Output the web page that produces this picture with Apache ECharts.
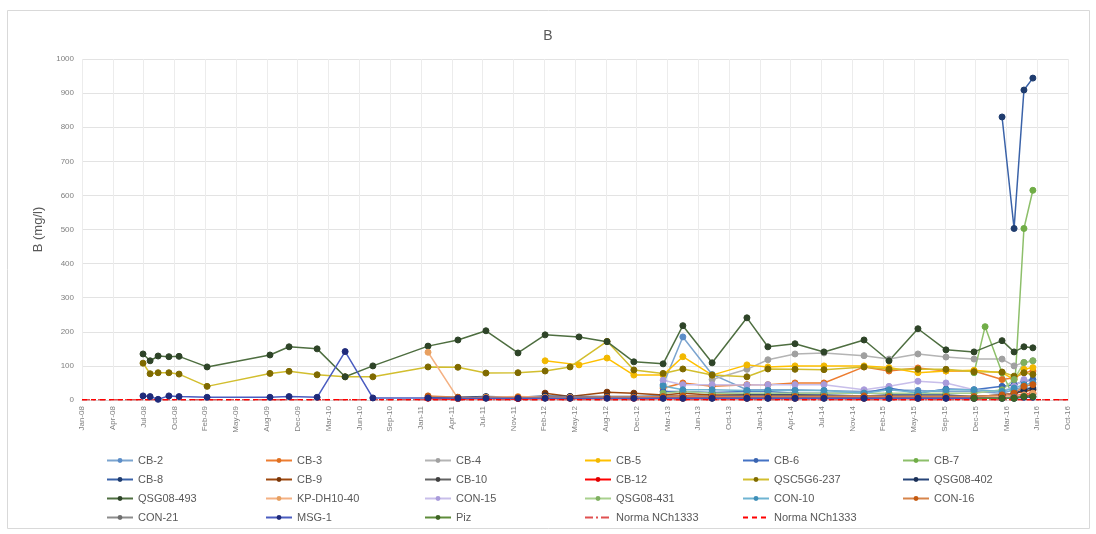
<!DOCTYPE html>
<html>
<head>
<meta charset="utf-8">
<script src="https://cdn.jsdelivr.net/npm/echarts@6/dist/echarts.min.js"></script>
<style>html,body{margin:0;padding:0;background:#fff}#c{width:1096px;height:534px}</style>
</head>
<body>
<div id="c"></div>
<script>
const _ = null;
const monthNames = ['Jan','Feb','Mar','Apr','May','Jun','Jul','Aug','Sep','Oct','Nov','Dec'];
const yTicks = [0,100,200,300,400,500,600,700,800,900,1000];
const sampleDates = ['2008-07-17','2008-08-09','2008-09-04','2008-10-09','2008-11-11','2009-02-10','2009-09-02','2009-11-03','2010-02-02','2010-05-04','2010-08-02','2011-01-28','2011-05-05','2011-08-04','2011-11-16','2012-02-12','2012-05-03','2012-06-01','2012-08-31','2012-11-26','2013-03-01','2013-05-04','2013-08-07','2013-11-28','2014-02-04','2014-05-03','2014-08-05','2014-12-13','2015-03-04','2015-06-06','2015-09-05','2015-12-05','2016-01-10','2016-03-05','2016-04-13','2016-05-15','2016-06-13'];
const normDates = ['2008-01-01','2016-10-05'];

const cb2  = [_,_,_,_,_,_,_,_,_,_, _,_,_,_,_,_,_,_,_,_, 45,185,75,30,30,30,28,25,30,28, 25,25,_,20,30,40,30];
const cb3  = [_,_,_,_,_,_,_,_,_,_, _,_,_,_,_,_,_,_,_,_, 35,50,40,45,45,50,50,97,85,94, 85,85,_,60,65,80,85];
const cb4  = [_,_,_,_,_,_,_,_,_,_, _,_,_,_,_,_,_,_,_,_, _,_,60,90,118,135,138,130,120,135, 126,120,_,120,100,110,115];
const cb5  = [_,_,_,_,_,_,_,_,_,_, _,_,_,_,_,115,_,103,123,73, 73,127,73,103,97,100,100,100,95,80, 85,87,_,80,60,90,95];
const cb6  = [_,_,_,_,_,_,_,_,_,_, _,_,_,_,_,_,_,_,_,_, 25,25,22,25,25,20,20,20,35,20, 32,30,_,40,45,55,60];
const cb7  = [_,_,_,_,_,_,_,_,_,_, _,_,_,_,_,_,_,_,_,_, _,_,_,_,_,_,_,_,_,_, _,80,215,80,5,503,615];
const cb8  = [_,_,_,_,_,_,_,_,_,_, _,_,_,_,_,_,_,_,_,_, _,_,_,_,_,_,_,_,_,_, _,_,_,830,503,909,944];
const cb9  = [_,_,_,_,_,_,_,_,_,_, _,_,_,_,_,20,10,_,23,20, 15,20,15,15,15,15,12,10,12,10, 10,10,_,15,20,25,30];
const cb10 = [_,_,_,_,_,_,_,_,_,_, _,_,_,_,_,_,_,_,_,_, 8,10,8,8,8,8,8,6,6,6, 6,6,_,10,10,12,15];
const cb12 = [_,_,_,_,_,_,_,_,_,_, _,5,4,6,4,6,5,_,6,5, 6,5,6,5,6,5,6,5,6,5, 6,5,_,8,10,15,20];
const qsc237 = [108,77,80,80,76,40,78,84,74,68, 68,97,96,79,80,85,97,_,172,88, 78,91,73,68,91,90,89,97,90,90, 90,83,_,82,70,80,75];
const qsg402 = [_,_,_,_,_,_,_,_,_,_, _,8,8,10,8,12,10,_,10,10, 12,12,12,15,15,15,15,12,15,15, 15,10,_,15,20,30,35];
const qsg493 = [135,115,129,127,128,97,132,156,150,68, 100,158,176,203,138,191,_,185,171,112, 106,218,109,241,156,165,141,176,115,209, 147,141,_,174,141,156,153];
const kpdh = [_,_,_,_,_,_,_,_,_,_, _,140,5,8,10,8,8,_,8,8, 10,10,10,10,10,10,10,10,10,10, 10,10,_,10,12,15,20];
const con15 = [_,_,_,_,_,_,_,_,_,_, _,_,_,_,_,_,_,_,_,_, 58,45,45,44,45,45,45,30,40,55, 50,30,_,25,40,60,50];
const qsg431 = [_,_,_,_,_,_,_,_,_,_, _,_,_,_,_,_,_,_,_,_, 20,25,20,20,20,20,20,20,20,20, 20,20,_,30,60,110,115];
const con10 = [_,_,_,_,_,_,_,_,_,_, _,_,_,_,_,_,_,_,_,_, 41,30,30,28,28,28,28,20,30,22, 30,30,_,25,35,45,50];
const con16 = [_,_,_,_,_,_,_,_,_,_, _,12,8,6,8,6,6,_,8,8, 10,12,10,10,10,10,10,12,10,10, 10,10,_,15,20,40,45];
const con21 = [_,_,_,_,_,_,_,_,_,_, _,_,_,_,_,_,_,_,_,_, 5,5,5,5,5,5,5,5,5,5, 5,5,_,5,8,10,10];
const msg1 = [12,10,2,12,10,8,8,10,8,142, 6,6,5,5,5,5,5,_,5,5, 5,5,5,5,5,5,5,5,5,5, 5,5,_,5,5,8,8];
const piz = [_,_,_,_,_,_,_,_,_,_, _,_,_,_,_,_,_,_,_,_, _,_,_,_,_,_,_,_,_,_, _,5,_,5,5,10,10];
const norma1 = [0.75,0.75];
const norma2 = [0.75,0.75];

const DAY = 86400000;
function ms(s){const p=s.split('-');return Date.UTC(+p[0],+p[1]-1,+p[2]);}
const t0 = ms('2008-01-01');
function pts(dates, vals){const o=[];for(let i=0;i<vals.length;i++){if(vals[i]!==null)o.push([ms(dates[i]),vals[i]]);}return o;}

const seriesDefs = [
  ['CB-2', cb2, '#7BA4CF', '#5B8DC8'],
  ['CB-3', cb3, '#ED7D31', '#E07020'],
  ['CB-4', cb4, '#B4B4B4', '#A0A0A0'],
  ['CB-5', cb5, '#FFC000', '#F2B800'],
  ['CB-6', cb6, '#4472C4', '#3A64B0'],
  ['CB-7', cb7, '#8DBF6A', '#70AD47'],
  ['CB-8', cb8, '#3A62A8', '#1F3C6E'],
  ['CB-9', cb9, '#9E480E', '#7A3608'],
  ['CB-10', cb10, '#636363', '#404040'],
  ['CB-12', cb12, '#FF0000', '#E00000', 2.5],
  ['QSC5G6-237', qsc237, '#D2BE2E', '#7F6A00'],
  ['QSG08-402', qsg402, '#264478', '#1A2F55'],
  ['QSG08-493', qsg493, '#4E6E40', '#2E4428'],
  ['KP-DH10-40', kpdh, '#F4B183', '#E8A060'],
  ['CON-15', con15, '#C8BEEA', '#A99BDB'],
  ['QSG08-431', qsg431, '#A9D18E', '#7FB060'],
  ['CON-10', con10, '#6FB4D2', '#3E8FB8'],
  ['CON-16', con16, '#D7844A', '#C55A11'],
  ['CON-21', con21, '#8C8C8C', '#6E6E6E'],
  ['MSG-1', msg1, '#4A5CC0', '#1F2A7A'],
  ['Piz', piz, '#5E8C3A', '#3E6424']
];

const series = seriesDefs.map(d => ({
  name: d[0], type: 'line', data: pts(sampleDates, d[1]),
  symbol: 'circle', symbolSize: 6,
  lineStyle: {color: d[2], width: d[4] || 1.5},
  itemStyle: {color: d[3], borderColor: d[3]},
  emphasis: {disabled: true}, animation: false
}));
series.push({name: 'Norma NCh1333', type: 'line', data: pts(normDates, norma1), symbol: 'none',
  lineStyle: {color: '#E05050', width: 1.5, type: [8,3,2,3]}, itemStyle:{color:'#E05050'}, animation: false});
series.push({name: 'Norma NCh1333 ', type: 'line', data: pts(normDates, norma2), symbol: 'none',
  lineStyle: {color: '#FF0000', width: 1.5, type: [5,4]}, itemStyle:{color:'#FF0000'}, animation: false});

const noMarker = n => ({name: n, itemStyle: {opacity: 0}});
const legendCols = [
  ['CB-2','CB-8','QSG08-493','CON-21'],
  ['CB-3','CB-9','KP-DH10-40','MSG-1'],
  ['CB-4','CB-10','CON-15','Piz'],
  ['CB-5','CB-12','QSG08-431', noMarker('Norma NCh1333')],
  ['CB-6','QSC5G6-237','CON-10', noMarker('Norma NCh1333 ')],
  ['CB-7','QSG08-402','CON-16']
];
const legendLeft = [106, 265, 424, 584, 742, 902];
const legends = legendCols.map((c,i)=>({
  data: c, orient: 'vertical', left: legendLeft[i], top: 454,
  itemWidth: 26, itemHeight: 6, itemGap: 6, padding: 0,
  textStyle: {color: '#595959', fontSize: 11, fontFamily: 'Liberation Sans', lineHeight: 13},
  selectedMode: false
}));

const chart = echarts.init(document.getElementById('c'));
chart.setOption({
  animation: false,
  backgroundColor: '#fff',
  title: {text: 'B', left: 'center', top: 24, textStyle: {color: '#595959', fontSize: 14, fontWeight: 'normal', fontFamily: 'Liberation Sans'}},
  legend: legends,
  grid: {left: 82, right: 28, top: 59, bottom: 134},
  graphic: [{type: 'rect', shape: {x: 7.5, y: 10.5, width: 1082, height: 518}, style: {fill: 'none', stroke: '#d9d9d9', lineWidth: 1}, silent: true}],
  xAxis: {
    type: 'value', min: t0, max: t0 + 3200*DAY, interval: 100*DAY,
    axisLine: {show: true, lineStyle: {color: '#d9d9d9'}},
    axisTick: {show: false},
    splitLine: {show: true, lineStyle: {color: '#ececec'}},
    axisLabel: {rotate: 90, fontSize: 8, color: '#7f7f7f', fontFamily: 'Liberation Sans', margin: 6,
      formatter: v => { const d = new Date(v); return monthNames[d.getUTCMonth()] + '-' + String(d.getUTCFullYear()).slice(2); }}
  },
  yAxis: {
    type: 'value', min: yTicks[0], max: yTicks[yTicks.length-1], interval: 100,
    name: 'B (mg/l)', nameLocation: 'middle', nameGap: 37,
    nameTextStyle: {color: '#595959', fontSize: 13, fontFamily: 'Liberation Sans'},
    axisLine: {show: false}, axisTick: {show: false},
    splitLine: {show: true, lineStyle: {color: '#e3e3e3'}},
    axisLabel: {fontSize: 8, color: '#7f7f7f', fontFamily: 'Liberation Sans', margin: 8, formatter: v => String(v)}
  },
  series: series
});
</script>
</body>
</html>
